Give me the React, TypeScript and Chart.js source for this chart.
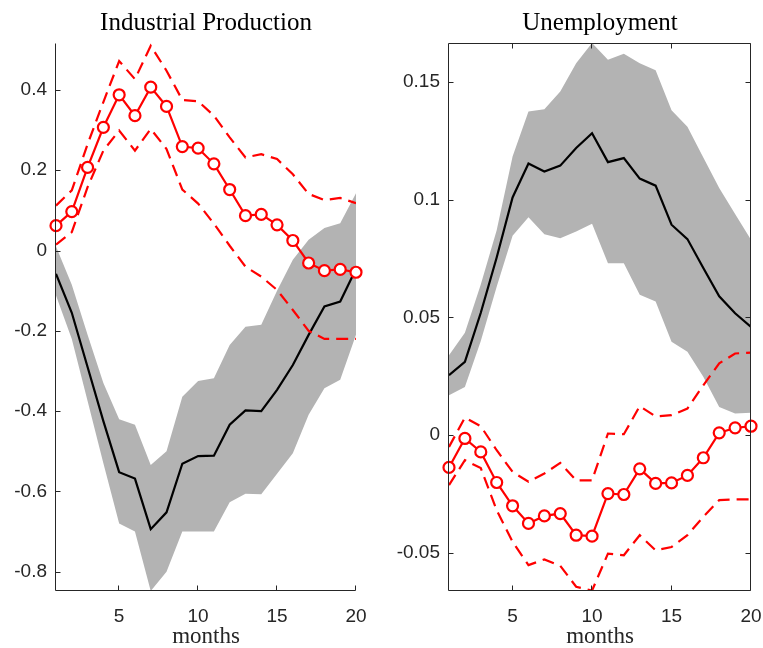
import React, { useEffect, useRef } from 'react';
import { Chart, registerables } from 'chart.js';

Chart.register(...registerables);

// ---------- shared ----------
const months = [1, 2, 3, 4, 5, 6, 7, 8, 9, 10, 11, 12, 13, 14, 15, 16, 17, 18, 19, 20];
const xTickValues = [5, 10, 15, 20];
const xTickLabels = ['5', '10', '15', '20'];
const xTitle = 'months';

// ---------- Industrial Production ----------
const ipTitle = 'Industrial Production';
const ipMedian = [-0.058, -0.155, -0.29, -0.425, -0.552, -0.568, -0.694, -0.652, -0.531, -0.512, -0.511, -0.434, -0.398, -0.4, -0.347, -0.285, -0.21, -0.139, -0.127, -0.046];
const ipBandUpper = [0.01, -0.085, -0.21, -0.33, -0.42, -0.434, -0.534, -0.5, -0.364, -0.325, -0.318, -0.235, -0.19, -0.185, -0.1, -0.023, 0.027, 0.056, 0.068, 0.143];
const ipBandLower = [-0.112, -0.22, -0.375, -0.53, -0.68, -0.7, -0.848, -0.8, -0.7, -0.7, -0.7, -0.627, -0.606, -0.607, -0.556, -0.505, -0.409, -0.343, -0.322, -0.21];
const ipResponse = [0.062, 0.097, 0.207, 0.307, 0.388, 0.336, 0.407, 0.359, 0.259, 0.255, 0.216, 0.152, 0.087, 0.09, 0.064, 0.025, -0.031, -0.05, -0.047, -0.054];
const ipRespUpper = [0.112, 0.15, 0.265, 0.37, 0.472, 0.427, 0.51, 0.448, 0.375, 0.372, 0.336, 0.282, 0.232, 0.24, 0.228, 0.19, 0.141, 0.126, 0.131, 0.118];
const ipRespLower = [0.015, 0.046, 0.158, 0.249, 0.299, 0.249, 0.303, 0.253, 0.152, 0.117, 0.067, 0.012, -0.04, -0.065, -0.098, -0.148, -0.2, -0.22, -0.22, -0.22];
const ipYTickValues = [-0.8, -0.6, -0.4, -0.2, 0, 0.2, 0.4];
const ipYTickLabels = ['-0.8', '-0.6', '-0.4', '-0.2', '0', '0.2', '0.4'];
const ipYMin = -0.848;
const ipYMax = 0.517;

// ---------- Unemployment ----------
const uTitle = 'Unemployment';
const uMedian = [0.0255, 0.0311, 0.052, 0.0755, 0.101, 0.1154, 0.112, 0.1145, 0.122, 0.1283, 0.116, 0.1177, 0.109, 0.106, 0.0894, 0.0833, 0.071, 0.059, 0.0518, 0.046];
const uBandUpper = [0.034, 0.0435, 0.064, 0.087, 0.1184, 0.1375, 0.1385, 0.146, 0.158, 0.1666, 0.1595, 0.162, 0.158, 0.155, 0.138, 0.131, 0.118, 0.105, 0.094, 0.083];
const uBandLower = [0.017, 0.0205, 0.04, 0.063, 0.0847, 0.0926, 0.0854, 0.0837, 0.0865, 0.0898, 0.073, 0.073, 0.0596, 0.0568, 0.0397, 0.0354, 0.0248, 0.012, 0.0092, 0.0095];
const uResponse = [-0.0137, -0.0014, -0.0071, -0.0201, -0.03, -0.0375, -0.0343, -0.0333, -0.0425, -0.0429, -0.0248, -0.0252, -0.0143, -0.0205, -0.0203, -0.0171, -0.0096, 0.001, 0.0031, 0.0038];
const uRespUpper = [-0.005, 0.0075, 0.0038, -0.0064, -0.0156, -0.0198, -0.0163, -0.0118, -0.0192, -0.0192, 0.0007, 0.0004, 0.0123, 0.008, 0.0085, 0.0113, 0.0212, 0.0305, 0.0347, 0.0351];
const uRespLower = [-0.0212, -0.0106, -0.014, -0.0319, -0.0453, -0.0552, -0.0528, -0.0555, -0.0644, -0.066, -0.0503, -0.051, -0.0425, -0.0489, -0.0475, -0.0425, -0.0347, -0.0276, -0.0273, -0.0273];
const uYTickValues = [-0.05, 0, 0.05, 0.1, 0.15];
const uYTickLabels = ['-0.05', '0', '0.05', '0.1', '0.15'];
const uYMin = -0.0662;
const uYMax = 0.1666;

const AXIS_COLOR = '#262626';
const BAND_COLOR = '#b3b3b3';
const RED = '#ff0000';
const TICK_LEN = 5;

function pts(values: number[]) {
  return months.map((m, i) => ({ x: m, y: values[i] }));
}

function framePlugin(box: boolean) {
  return {
    id: 'matlabFrame',
    afterDatasetsDraw(chart: any) {
      const { ctx, chartArea } = chart;
      const { left, right, top, bottom } = chartArea;
      const xs = chart.scales.x;
      const ys = chart.scales.y;
      const L = Math.round(left) - 0.5;
      const R = Math.round(right) - 0.5;
      const T = Math.round(top) + 0.5;
      const B = Math.round(bottom) - 0.5;
      ctx.save();
      ctx.strokeStyle = AXIS_COLOR;
      ctx.lineWidth = 1;
      ctx.setLineDash([]);
      ctx.beginPath();
      ctx.moveTo(L, T);
      ctx.lineTo(L, B);
      ctx.lineTo(R, B);
      if (box) {
        ctx.lineTo(R, T);
        ctx.lineTo(L, T);
      }
      xs.ticks.forEach((t: any) => {
        const px = Math.round(xs.getPixelForValue(t.value)) - 0.5;
        ctx.moveTo(px, B);
        ctx.lineTo(px, B - TICK_LEN);
        if (box) {
          ctx.moveTo(px, T);
          ctx.lineTo(px, T + TICK_LEN);
        }
      });
      ys.ticks.forEach((t: any) => {
        const py = Math.round(ys.getPixelForValue(t.value)) + 0.5;
        ctx.moveTo(L, py);
        ctx.lineTo(L + TICK_LEN, py);
        if (box) {
          ctx.moveTo(R, py);
          ctx.lineTo(R - TICK_LEN, py);
        }
      });
      ctx.stroke();
      ctx.restore();
    },
  };
}

function buildConfig(p: {
  title: string;
  median: number[];
  bandUpper: number[];
  bandLower: number[];
  response: number[];
  respUpper: number[];
  respLower: number[];
  yTickValues: number[];
  yTickLabels: string[];
  yMin: number;
  yMax: number;
  yAxisWidth: number;
  padRight: number;
  box: boolean;
}): any {
  const lineBase = { tension: 0, fill: false, pointRadius: 0, pointHoverRadius: 0 };
  return {
    type: 'line',
    data: {
      datasets: [
        { ...lineBase, data: pts(p.bandUpper), borderWidth: 0, borderColor: 'rgba(0,0,0,0)', backgroundColor: BAND_COLOR, fill: '+1', order: 5 },
        { ...lineBase, data: pts(p.bandLower), borderWidth: 0, borderColor: 'rgba(0,0,0,0)', order: 5 },
        { ...lineBase, data: pts(p.median), borderColor: '#000000', borderWidth: 2.2, order: 4 },
        { ...lineBase, data: pts(p.respUpper), borderColor: RED, borderWidth: 2.2, borderDash: [12, 7], order: 3 },
        { ...lineBase, data: pts(p.respLower), borderColor: RED, borderWidth: 2.2, borderDash: [12, 7], order: 3 },
        {
          ...lineBase,
          data: pts(p.response),
          borderColor: RED,
          borderWidth: 2.2,
          pointRadius: 5.5,
          pointBorderWidth: 2.2,
          pointBorderColor: RED,
          pointBackgroundColor: '#ffffff',
          pointStyle: 'circle',
          clip: false,
          order: 1,
        },
      ],
    },
    options: {
      animation: false,
      responsive: false,
      devicePixelRatio: 1,
      events: [],
      layout: { padding: { top: 0, left: 0, right: p.padRight, bottom: 0 } },
      plugins: {
        legend: { display: false },
        tooltip: { enabled: false },
        title: {
          display: true,
          text: p.title,
          fullSize: false,
          color: '#000000',
          font: { family: "'Liberation Serif', serif", size: 25, weight: 'normal', lineHeight: 1.2 },
          padding: { top: 8, bottom: 5 },
        },
      },
      scales: {
        x: {
          type: 'linear',
          min: 1,
          max: 20,
          grid: { display: false, drawTicks: true, tickLength: 14 },
          border: { display: false },
          ticks: {
            color: AXIS_COLOR,
            padding: 0,
            maxRotation: 0,
            font: { family: "'Liberation Sans', Arial, sans-serif", size: 19 },
            callback: (_v: any, i: number) => xTickLabels[i],
          },
          title: {
            display: true,
            text: xTitle,
            color: AXIS_COLOR,
            font: { family: "'Liberation Serif', serif", size: 23, lineHeight: 1 },
            padding: { top: 0, bottom: 0 },
          },
          afterBuildTicks: (scale: any) => {
            scale.ticks = xTickValues.map((v) => ({ value: v }));
          },
          afterFit: (scale: any) => {
            scale.height = 57;
          },
        },
        y: {
          type: 'linear',
          min: p.yMin,
          max: p.yMax,
          grid: { display: false, drawTicks: false },
          border: { display: false },
          ticks: {
            color: AXIS_COLOR,
            padding: 9,
            font: { family: "'Liberation Sans', Arial, sans-serif", size: 19 },
            callback: (_v: any, i: number) => p.yTickLabels[i],
          },
          afterBuildTicks: (scale: any) => {
            scale.ticks = p.yTickValues.map((v) => ({ value: v }));
          },
          afterFit: (scale: any) => {
            scale.width = p.yAxisWidth;
          },
        },
      },
    },
    plugins: [framePlugin(p.box)],
  };
}

export default function App() {
  const leftRef = useRef<HTMLCanvasElement | null>(null);
  const rightRef = useRef<HTMLCanvasElement | null>(null);

  useEffect(() => {
    const charts: Chart[] = [];
    if (leftRef.current) {
      charts.push(
        new Chart(
          leftRef.current,
          buildConfig({
            title: ipTitle,
            median: ipMedian,
            bandUpper: ipBandUpper,
            bandLower: ipBandLower,
            response: ipResponse,
            respUpper: ipRespUpper,
            respLower: ipRespLower,
            yTickValues: ipYTickValues,
            yTickLabels: ipYTickLabels,
            yMin: ipYMin,
            yMax: ipYMax,
            yAxisWidth: 56,
            padRight: 24,
            box: false,
          })
        )
      );
    }
    if (rightRef.current) {
      charts.push(
        new Chart(
          rightRef.current,
          buildConfig({
            title: uTitle,
            median: uMedian,
            bandUpper: uBandUpper,
            bandLower: uBandLower,
            response: uResponse,
            respUpper: uRespUpper,
            respLower: uRespLower,
            yTickValues: uYTickValues,
            yTickLabels: uYTickLabels,
            yMin: uYMin,
            yMax: uYMax,
            yAxisWidth: 69,
            padRight: 12,
            box: true,
          })
        )
      );
    }
    return () => {
      charts.forEach((c) => c.destroy());
    };
  }, []);

  return (
    <div style={{ position: 'absolute', left: 0, top: 0, width: 763, height: 648, background: '#ffffff', overflow: 'hidden' }}>
      <canvas ref={leftRef} width={380} height={648} style={{ position: 'absolute', left: 0, top: 0, width: 380, height: 648 }} />
      <canvas ref={rightRef} width={383} height={648} style={{ position: 'absolute', left: 380, top: 0, width: 383, height: 648 }} />
    </div>
  );
}
